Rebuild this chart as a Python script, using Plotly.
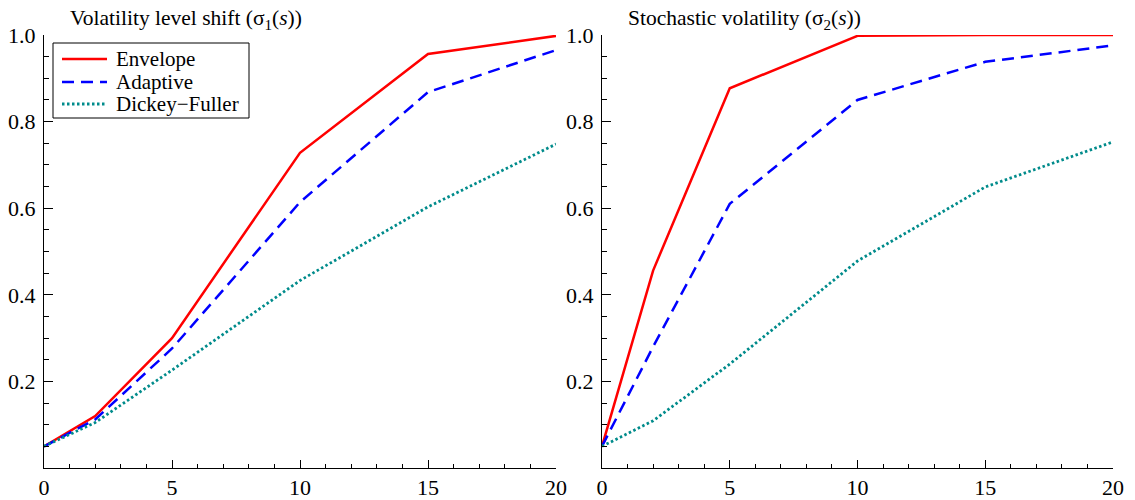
import plotly.graph_objects as go
from plotly.subplots import make_subplots

# Sample sizes (s) on the horizontal axis
s_values = [0, 2, 5, 10, 15, 20]

# Rejection frequencies, volatility level shift
level_envelope = [0.05, 0.12, 0.30, 0.728, 0.956, 0.998]
level_adaptive = [0.05, 0.112, 0.276, 0.614, 0.868, 0.965]
level_dickey_fuller = [0.05, 0.105, 0.226, 0.433, 0.603, 0.748]

# Rejection frequencies, stochastic volatility
stoch_envelope = [0.05, 0.456, 0.877, 0.998, 1.0, 1.0]
stoch_adaptive = [0.05, 0.28, 0.61, 0.85, 0.938, 0.976]
stoch_dickey_fuller = [0.05, 0.109, 0.24, 0.478, 0.649, 0.753]

series_names = ["Envelope", "Adaptive", "Dickey\u2212Fuller"]
panel_titles = ["Volatility level shift (\u03c3<sub>1</sub>(<i>s</i>))",
                "Stochastic volatility (\u03c3<sub>2</sub>(<i>s</i>))"]

y_tick_values = [0.2, 0.4, 0.6, 0.8, 1.0]
x_tick_values = [0, 5, 10, 15, 20]

FONT = "Liberation Serif, Times New Roman, serif"
TICK_SIZE = 22
TEXT_SIZE = 21.5
LEGEND_SIZE = 21
styles = [
    dict(color="#ff0000", width=2.5, dash="solid"),
    dict(color="#0000ff", width=2.5, dash="12px,7px"),
    dict(color="#008b8b", width=2.8, dash="2.5px,2.5px"),
]

W, H = 1135, 500
M_L, M_R, M_T, M_B = 44, 22, 35, 32
plot_w = W - M_L - M_R
plot_h = H - M_T - M_B
left_end = 556 - M_L   # right edge of the first panel, px inside plot area
right_start = 602 - M_L

fig = make_subplots(rows=1, cols=2)
fig.update_layout(
    xaxis=dict(domain=[0, left_end / plot_w]),
    xaxis2=dict(domain=[right_start / plot_w, 1]),
)

panels = [
    [level_envelope, level_adaptive, level_dickey_fuller],
    [stoch_envelope, stoch_adaptive, stoch_dickey_fuller],
]
for col, panel in enumerate(panels, start=1):
    for name, values, style in zip(series_names, panel, styles):
        fig.add_trace(
            go.Scatter(x=s_values, y=values, mode="lines", name=name,
                       line=style, showlegend=False),
            row=1, col=col,
        )

axis_common = dict(
    showline=True, linecolor="black", linewidth=1, showgrid=False,
    zeroline=False, ticks="inside", tickcolor="black", automargin=False,
    tickfont=dict(family=FONT, size=TICK_SIZE, color="black"),
)

for col in (1, 2):
    fig.update_xaxes(
        range=[0, 20], tickmode="array", tickvals=x_tick_values,
        ticklen=8, ticklabelstandoff=0,
        minor=dict(tickmode="linear", tick0=0, dtick=1, ticks="inside",
                   ticklen=4, tickcolor="black"),
        **axis_common, row=1, col=col,
    )
    fig.update_yaxes(
        range=[0, 1], tickmode="array", tickvals=y_tick_values,
        tickformat=".1f", ticklen=9, ticklabelstandoff=3,
        minor=dict(tickmode="linear", tick0=0, dtick=0.05, ticks="inside",
                   ticklen=5, tickcolor="black"),
        **axis_common, row=1, col=col,
    )

# Panel titles
for col, title in enumerate(panel_titles, start=1):
    xref = "x domain" if col == 1 else "x2 domain"
    fig.add_annotation(
        text=title, xref=xref, yref="paper", x=0.047, y=1.0,
        xanchor="left", yanchor="bottom", yshift=0, showarrow=False,
        font=dict(family=FONT, size=TEXT_SIZE, color="black"),
    )

# Legend box inside the first panel (pixel offsets from the panel's corner)
panel_px_w = left_end
def dx(px):
    return (px - M_L) / panel_px_w
def dy(py):
    return 1 - (py - M_T) / plot_h

fig.add_shape(type="rect", xref="x domain", yref="y domain",
              x0=dx(53), x1=dx(249), y0=dy(118), y1=dy(43),
              line=dict(color="black", width=1), fillcolor="white",
              layer="above")
entry_rows = [59, 82, 104]
for name, style, row_y in zip(series_names, styles, entry_rows):
    fig.add_shape(type="line", xref="x domain", yref="y domain",
                  x0=dx(62), x1=dx(107), y0=dy(row_y), y1=dy(row_y),
                  line=style, layer="above")
    fig.add_annotation(
        text=name, xref="x domain", yref="y domain",
        x=dx(114), y=dy(row_y), xanchor="left", yanchor="middle",
        showarrow=False,
        font=dict(family=FONT, size=LEGEND_SIZE, color="black"),
    )

fig.update_layout(
    width=W, height=H,
    margin=dict(l=M_L, r=M_R, t=M_T, b=M_B, autoexpand=False),
    plot_bgcolor="white", paper_bgcolor="white",
    font=dict(family=FONT, size=TEXT_SIZE, color="black"),
    showlegend=False,
)

fig.write_html("out.html")
